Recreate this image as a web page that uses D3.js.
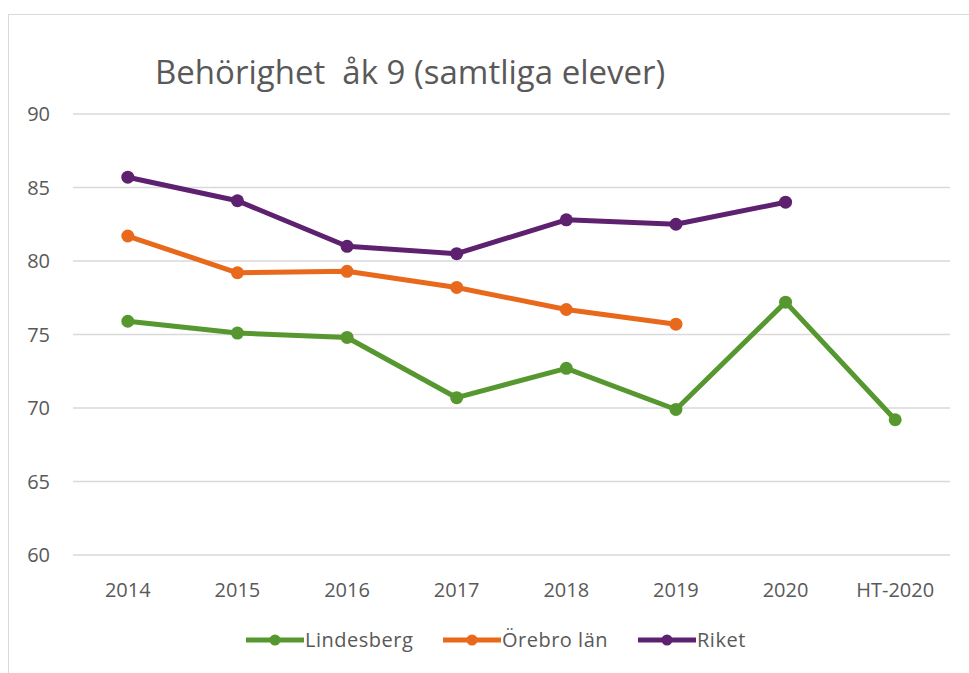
<!DOCTYPE html>
<html>
<head>
<meta charset="utf-8">
<script src="https://cdn.jsdelivr.net/npm/d3@7"></script>
<style>
  body { margin: 0; background: #fff; }
  svg { display: block; font-family: "Open Sans", sans-serif; }
</style>
</head>
<body>
<svg id="chart" width="969" height="673"></svg>
<script>
// data
const categories = ['2014', '2015', '2016', '2017', '2018', '2019', '2020', 'HT-2020'];
const lindesberg = [75.9, 75.1, 74.8, 70.7, 72.7, 69.9, 77.2, 69.2];
const orebro = [81.7, 79.2, 79.3, 78.2, 76.7, 75.7, null, null];
const riket = [85.7, 84.1, 81.0, 80.5, 82.8, 82.5, 84.0, null];
const yTicks = [60, 65, 70, 75, 80, 85, 90];

const series = [
  { name: 'Lindesberg', values: lindesberg, color: '#56982f' },
  { name: 'Örebro län', values: orebro, color: '#e8691c' },
  { name: 'Riket', values: riket, color: '#5e2170' }
];

const svg = d3.select('#chart');
const textColor = '#595959';

// chart frame
svg.append('rect')
  .attr('x', 8.5).attr('y', 14.5)
  .attr('width', 980).attr('height', 700)
  .attr('fill', 'none')
  .attr('stroke', '#d9d9d9');

const x = d3.scaleBand()
  .domain(categories)
  .range([73, 950]);

const y = d3.scaleLinear()
  .domain([60, 90])
  .range([555, 114]);

// gridlines
svg.append('g')
  .selectAll('line')
  .data(yTicks)
  .enter()
  .append('line')
  .attr('x1', 73).attr('x2', 950)
  .attr('y1', d => y(d)).attr('y2', d => y(d))
  .attr('stroke', '#d9d9d9')
  .attr('stroke-width', 1.3);

// y labels
svg.append('g')
  .selectAll('text')
  .data(yTicks)
  .enter()
  .append('text')
  .attr('x', 50)
  .attr('y', d => y(d))
  .attr('dy', '0.35em')
  .attr('text-anchor', 'end')
  .attr('fill', textColor)
  .style('font-size', '20px')
  .text(d => d);

// x labels
svg.append('g')
  .selectAll('text')
  .data(categories)
  .enter()
  .append('text')
  .attr('x', d => x(d) + x.bandwidth() / 2)
  .attr('y', 597)
  .attr('text-anchor', 'middle')
  .attr('fill', textColor)
  .style('font-size', '20px')
  .text(d => d);

// title
svg.append('text')
  .attr('x', 155)
  .attr('y', 84)
  .attr('fill', textColor)
  .style('font-size', '33px')
  .style('white-space', 'pre')
  .text('Behörighet  åk 9 (samtliga elever)');

const line = d3.line()
  .defined(d => d.v != null)
  .x(d => x(d.c) + x.bandwidth() / 2)
  .y(d => y(d.v));

series.forEach(s => {
  const pts = categories.map((c, i) => ({ c: c, v: s.values[i] }));
  const g = svg.append('g');
  g.append('path')
    .datum(pts)
    .attr('d', line)
    .attr('fill', 'none')
    .attr('stroke', s.color)
    .attr('stroke-width', 5)
    .attr('stroke-linejoin', 'round');
  g.selectAll('circle')
    .data(pts.filter(d => d.v != null))
    .enter()
    .append('circle')
    .attr('cx', d => x(d.c) + x.bandwidth() / 2)
    .attr('cy', d => y(d.v))
    .attr('r', 6.5)
    .attr('fill', s.color);
});

// legend
const legendX = [246, 443, 638];
series.forEach((s, i) => {
  const lg = svg.append('g').attr('transform', 'translate(' + legendX[i] + ',640)');
  lg.append('line')
    .attr('x1', 0).attr('x2', 58)
    .attr('stroke', s.color)
    .attr('stroke-width', 5);
  lg.append('circle')
    .attr('cx', 29).attr('r', 5.5)
    .attr('fill', s.color);
  lg.append('text')
    .attr('x', 59)
    .attr('dy', '0.35em')
    .attr('fill', textColor)
    .style('font-size', '20px')
    .style('letter-spacing', '0.5px')
    .text(s.name);
});
</script>
</body>
</html>
